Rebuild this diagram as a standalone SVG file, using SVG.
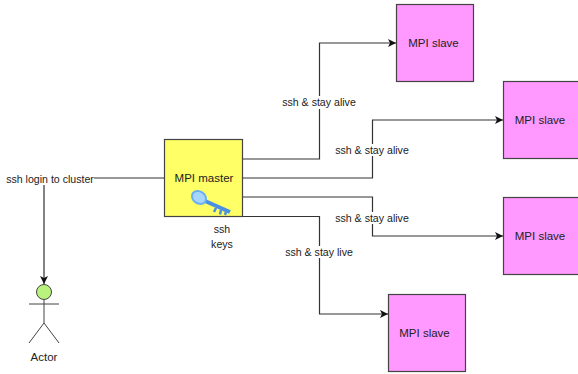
<svg xmlns="http://www.w3.org/2000/svg" width="578" height="374" viewBox="0 0 578 374">
<style>
text{font-family:"Liberation Sans",Arial,sans-serif;font-size:10.600px;fill:#222;text-anchor:middle}
text.b{font-size:11.500px}
.n{stroke:#444;stroke-width:1.200}
.c{fill:none;stroke:#333;stroke-width:1.200}
.s{fill:#ff99ff}
.a{fill:none;stroke:#444;stroke-width:1}
.lb{fill:#fff}
</style>
<defs>
<marker id="arr" markerUnits="userSpaceOnUse" markerWidth="9" markerHeight="9" refX="8" refY="4.500" orient="auto"><path d="M0 0.500L8 4.500L0 8.500L2 4.500Z" fill="#111"/></marker>
</defs>
<rect width="578" height="374" fill="#fff"/>
<g id="connectors">
<path class="c" d="M243 159H319.500V43H396" marker-end="url(#arr)"/>
<path class="c" d="M243 178H372.500V120H503" marker-end="url(#arr)"/>
<path class="c" d="M243 197H372.500V236H503" marker-end="url(#arr)"/>
<path class="c" d="M243 216.500H319.500V314H388" marker-end="url(#arr)"/>
<path class="c" d="M164 178H44V284" marker-end="url(#arr)"/>
<rect class="lb" x="281" y="96" width="77" height="13"/>
<text x="319" y="106">ssh &amp; stay alive</text>
<rect class="lb" x="334" y="144" width="77" height="12"/>
<text x="372" y="154">ssh &amp; stay alive</text>
<rect class="lb" x="334" y="212" width="77" height="12"/>
<text x="372" y="222">ssh &amp; stay alive</text>
<rect class="lb" x="284" y="246" width="70" height="12"/>
<text x="319" y="256">ssh &amp; stay live</text>
<rect class="lb" x="5" y="173" width="89" height="12"/>
<text x="50" y="183">ssh login to cluster</text>
</g>
<g id="master">
<rect class="n" x="164.500" y="139.500" width="78" height="77" fill="#ffff66"/>
<text class="b" x="204" y="182">MPI master</text>
<g id="key">
<path d="M205 201L230 212" stroke="#4a90e2" stroke-width="4" fill="none"/>
<path d="M216 208l-2 4M221 210l-1 4.500M226 212l-1 3" stroke="#4a90e2" stroke-width="2.500" fill="none"/>
<ellipse cx="199" cy="197.500" rx="7.500" ry="6" transform="rotate(35 199 197.500)" fill="#a8d6fb" stroke="#6ab0f0" stroke-width="2"/>
</g>
<text x="222" y="233">ssh</text>
<text x="222" y="248">keys</text>
</g>
<g id="slave1"><rect class="n s" x="396.500" y="4.500" width="77" height="77"/><text class="b" x="433.500" y="47">MPI slave</text></g>
<g id="slave2"><rect class="n s" x="503.500" y="81.500" width="77" height="77"/><text class="b" x="540" y="124">MPI slave</text></g>
<g id="slave3"><rect class="n s" x="503.500" y="197.500" width="77" height="77"/><text class="b" x="540" y="240">MPI slave</text></g>
<g id="slave4"><rect class="n s" x="388.500" y="294.500" width="77" height="77"/><text class="b" x="424.500" y="337">MPI slave</text></g>
<g id="actor">
<circle cx="44" cy="292" r="7.500" fill="#b9f27c" stroke="#444"/>
<path class="a" d="M44 300V323M29 304H59M29 343L44 323L59 343"/>
<text class="b" x="44" y="361">Actor</text>
</g>
</svg>
